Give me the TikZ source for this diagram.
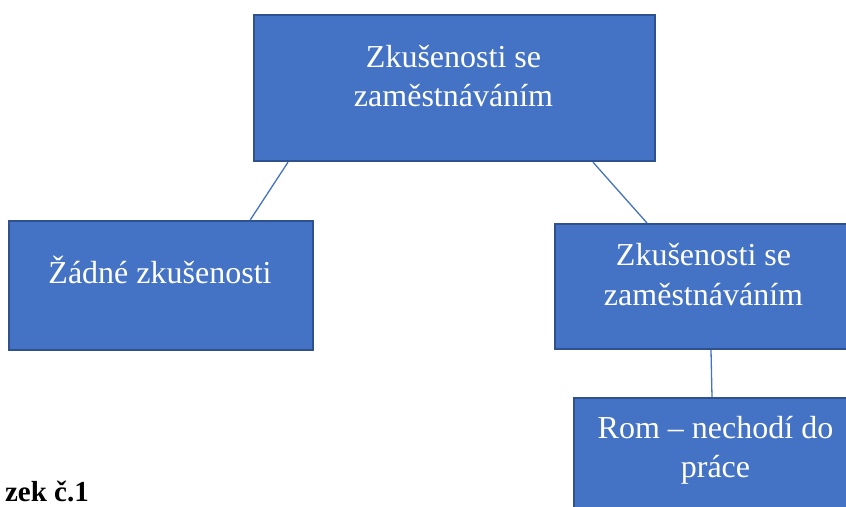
\documentclass[tikz,border=0pt]{standalone}
\usepackage{fontspec}
\setmainfont{Liberation Serif}
\usetikzlibrary{calc}
\definecolor{boxfill}{HTML}{4472C4}
\definecolor{boxedge}{HTML}{2F528F}
\begin{document}
\begin{tikzpicture}[x=1pt,y=-1pt,
  box/.style={draw=boxedge, fill=boxfill, line width=2.2pt, rectangle, inner sep=0pt, anchor=north west},
  lbl/.style={text=white, font=\fontsize{32}{38}\selectfont, anchor=base, inner sep=0pt},
  conn/.style={draw=boxfill, line width=1.3pt},
  captext/.style={font=\fontsize{29}{34}\selectfont\bfseries, anchor=base east, inner sep=0pt}]
\path[use as bounding box] (0,0) rectangle (846,506);
\node[box, minimum width=401pt, minimum height=146pt] (top) at (253,14) {};
\node[box, minimum width=304pt, minimum height=129pt] (left) at (8,220) {};
\node[box, minimum width=300pt, minimum height=125pt] (right) at (554,223) {};
\node[box, minimum width=286pt, minimum height=140pt] (bottom) at (573,397) {};
% texts
\node[lbl] (top1) at (453.5,67) {Zkušenosti se};
\node[lbl] (top2) at (453.5,106) {zaměstnáváním};
\node[lbl] (left1) at (160,283) {Žádné zkušenosti};
\node[lbl] (right1) at (703.5,265) {Zkušenosti se};
\node[lbl] (right2) at (703.5,305) {zaměstnáváním};
\node[lbl] (bot1) at (715.5,438) {Rom – nechodí do};
\node[lbl] (bot2) at (715.5,477) {práce};
% connectors
\draw[conn] ($(top.south west)+(35,0)$) -- ($(left.north east)+(-64,0)$);
\draw[conn] ($(top.south west)+(340,0)$) -- ($(right.north west)+(93,0)$);
\draw[conn] ($(right.south west)+(157,0)$) -- ($(bottom.north west)+(139,0)$);
% caption
\node[captext] (caption) at (89,501) {zek č.1};
\end{tikzpicture}
\end{document}
